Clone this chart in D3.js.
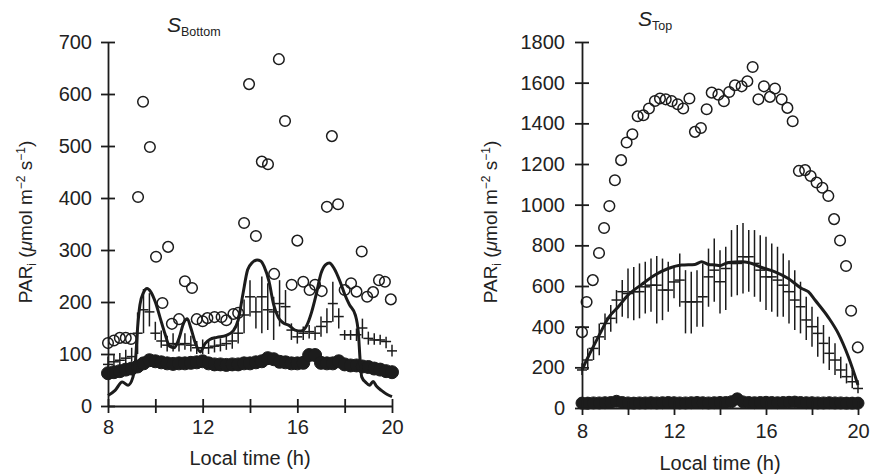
<!DOCTYPE html>
<html>
<head>
<meta charset="utf-8">
<script src="https://cdn.jsdelivr.net/npm/d3@7"></script>
<style>
  body { margin: 0; background: #fff; }
  svg { display: block; font-family: "Liberation Sans", Arial, Helvetica, sans-serif; }
</style>
</head>
<body>
<svg id="chart" width="873" height="475"></svg>
<script>
// sampling times (h) shared by the "+" error-bar series and the filled-circle series
const hours = [8, 8.25, 8.5, 8.75, 9, 9.25, 9.5, 9.75, 10, 10.25, 10.5, 10.75, 11, 11.25, 11.5, 11.75,
  12, 12.25, 12.5, 12.75, 13, 13.25, 13.5, 13.75, 14, 14.25, 14.5, 14.75, 15, 15.25, 15.5, 15.75,
  16, 16.25, 16.5, 16.75, 17, 17.25, 17.5, 17.75, 18, 18.25, 18.5, 18.75, 19, 19.25, 19.5, 19.75, 20];

// ---- S_Bottom ----
const bottomOpen = [[8.0,121],[8.25,126],[8.5,131],[8.75,131],[8.97,129],[9.27,402],[9.48,585],[9.77,498],
  [10.03,287],[10.3,198],[10.54,306],[10.7,158],[11.0,167],[11.25,240],[11.55,227],[11.75,167],[12.0,163],
  [12.2,169],[12.5,171],[12.8,171],[13.0,165],[13.3,177],[13.5,179],[13.75,352],[13.96,619],[14.25,327],
  [14.5,470],[14.76,465],[15.02,254],[15.22,667],[15.48,548],[15.76,233],[16.0,318],[16.25,239],[16.52,223],
  [16.75,233],[17.03,221],[17.25,383],[17.46,519],[17.72,388],[18.0,223],[18.27,236],[18.5,220],[18.72,297],
  [18.95,210],[19.2,219],[19.45,242],[19.7,239],[19.95,205]];

const bottomLine = [[8.0,20],[8.3,30],[8.6,46],[8.85,40],[9.05,55],[9.15,80],[9.25,150],[9.35,195],[9.5,218],
  [9.65,226],[9.8,220],[10.0,200],[10.2,170],[10.4,140],[10.6,115],[10.8,112],[11.0,130],[11.2,160],[11.35,168],
  [11.5,150],[11.7,120],[11.9,104],[12.1,120],[12.3,128],[12.6,132],[13.0,136],[13.3,145],[13.5,165],[13.7,215],
  [13.9,262],[14.1,276],[14.3,281],[14.45,279],[14.6,268],[14.8,240],[15.0,195],[15.2,170],[15.4,160],[15.65,155],
  [15.9,146],[16.15,144],[16.4,155],[16.6,180],[16.8,215],[17.0,255],[17.2,272],[17.35,275],[17.55,265],[17.8,240],
  [18.0,215],[18.2,195],[18.45,175],[18.58,140],[18.65,90],[18.72,56],[18.9,45],[19.05,40],[19.2,47],[19.35,38],
  [19.55,30],[19.8,22],[20.0,18]];

const bottomCrossMid = [80,85,88,92,95,140,185,181,140,125,117,120,118,120,117,112,112,112,115,117,120,125,140,175,
  210,181,210,185,181,197,191,146,133,140,143,140,153,162,197,172,137,137,137,150,130,127,127,124,106];
const bottomCrossLow = [70,75,78,82,85,100,140,153,127,112,105,105,105,108,105,100,100,100,103,105,108,110,120,140,
  172,149,140,146,127,153,159,127,120,127,130,127,133,140,162,149,127,127,125,130,118,118,118,111,95];
const bottomCrossHigh = [95,100,102,108,112,180,225,217,162,145,135,140,135,140,135,125,128,125,128,130,135,140,160,205,
  242,210,249,236,210,242,223,159,146,153,156,153,172,188,239,188,146,146,149,168,143,140,137,133,118];

const bottomFilled = [63,65,67,70,72,76,82,88,86,84,82,81,82,82,83,84,86,82,80,80,79,80,80,82,82,84,86,92,90,85,84,82,
  82,83,98,98,83,82,82,86,80,78,78,76,75,72,70,67,65];

// ---- S_Top ----
const topOpen = [[8.0,373],[8.2,521],[8.47,629],[8.74,762],[8.96,885],[9.19,993],[9.43,1120],[9.7,1219],[9.94,1306],
  [10.19,1346],[10.42,1435],[10.67,1440],[10.91,1473],[11.17,1510],[11.39,1522],[11.64,1518],[11.9,1509],[12.16,1494],
  [12.4,1473],[12.67,1522],[12.91,1358],[13.17,1377],[13.42,1469],[13.64,1551],[13.93,1541],[14.17,1509],[14.4,1554],
  [14.65,1587],[14.94,1582],[15.19,1607],[15.42,1677],[15.67,1518],[15.91,1582],[16.17,1530],[16.39,1571],[16.68,1518],
  [16.93,1476],[17.16,1410],[17.43,1166],[17.7,1170],[17.94,1141],[18.2,1109],[18.45,1083],[18.71,1043],[18.96,929],
  [19.22,824],[19.48,698],[19.7,478],[19.99,298]];

const topLine = [[8.0,187],[8.27,252],[8.57,319],[8.86,383],[9.14,442],[9.58,498],[10.0,555],[10.6,608],[11.17,654],
  [11.75,686],[12.33,703],[12.91,706],[13.2,719],[13.5,706],[13.78,703],[14.0,700],[14.36,716],[14.94,719],[15.23,716],
  [15.81,691],[16.39,670],[16.97,637],[17.55,588],[17.84,572],[18.13,531],[18.71,446],[19.14,367],[19.58,252],[20.0,113]];

const topCrossMid = [187,236,293,350,416,441,531,572,563,572,572,596,604,604,580,580,620,629,522,522,522,547,645,678,
  621,686,711,711,744,744,711,678,645,645,629,604,572,531,498,433,400,367,318,269,236,187,154,129,96];
const topCrossLow = [162,187,236,260,334,375,416,449,441,432,441,465,473,416,432,473,540,498,367,367,400,400,498,522,
  465,482,547,555,563,572,547,522,482,473,449,449,416,383,367,334,301,252,219,187,162,146,121,97,72];
const topCrossHigh = [220,293,350,416,465,506,580,629,686,694,711,719,735,747,735,719,700,760,678,670,678,711,784,834,
  776,793,875,900,910,875,875,850,842,809,793,760,727,678,621,547,498,449,408,350,318,252,219,187,137];

const topFilled = [24,24,25,25,26,27,33,27,25,24,25,25,26,25,26,27,26,25,25,26,27,26,25,26,27,27,31,45,30,27,26,27,
  28,27,26,27,28,29,27,26,26,25,25,26,25,25,24,24,24];

// ---- axes ----
const xTicks = [8, 10, 12, 14, 16, 18, 20];
const xTickLabels = [8, 12, 16, 20];
const bottomYTicks = [0, 100, 200, 300, 400, 500, 600, 700];
const topYTicks = [0, 200, 400, 600, 800, 1000, 1200, 1400, 1600, 1800];

const ink = "#1c1c1c";
const svg = d3.select("#chart");
svg.append("rect").attr("width", 873).attr("height", 475).attr("fill", "#fff");

function drawPanel(p) {
  const g = svg.append("g");
  const x = d3.scaleLinear().domain([8, 20]).range([p.left, p.right]);
  const y = d3.scaleLinear().domain([0, p.yMax]).range([p.bottom, p.top]);

  // "+" markers with vertical error bars
  const bars = g.append("g").attr("stroke", ink).attr("stroke-width", 1.5);
  hours.forEach((t, i) => {
    bars.append("line")
      .attr("x1", x(t)).attr("x2", x(t))
      .attr("y1", y(p.crossLow[i])).attr("y2", y(p.crossHigh[i]));
    bars.append("line")
      .attr("x1", x(t) - 5).attr("x2", x(t) + 5)
      .attr("y1", y(p.crossMid[i])).attr("y2", y(p.crossMid[i]));
  });

  // filled circles (dense band)
  g.append("g").selectAll("circle")
    .data(d3.zip(hours, p.filled))
    .join("circle")
    .attr("cx", d => x(d[0]))
    .attr("cy", d => y(d[1]))
    .attr("r", p.dotR)
    .attr("fill", ink)
    .attr("stroke", ink)
    .attr("stroke-width", 1);

  // thick solid line
  g.append("path")
    .datum(p.line)
    .attr("d", d3.line().x(d => x(d[0])).y(d => y(d[1])).curve(d3.curveMonotoneX))
    .attr("fill", "none")
    .attr("stroke", ink)
    .attr("stroke-width", 3)
    .attr("stroke-linejoin", "round");

  // open circles
  g.append("g").selectAll("circle")
    .data(p.open)
    .join("circle")
    .attr("cx", d => x(d[0]))
    .attr("cy", d => y(d[1]))
    .attr("r", 5.3)
    .attr("fill", "none")
    .attr("stroke", ink)
    .attr("stroke-width", 1.5);

  // x axis
  const gx = g.append("g")
    .attr("transform", "translate(0," + p.bottom + ")")
    .call(d3.axisBottom(x).tickValues(xTicks)
      .tickFormat(d => xTickLabels.includes(d) ? d : "")
      .tickSize(7).tickSizeOuter(0).tickPadding(p.xPad));
  gx.selectAll(".tick line").attr("y1", -7).attr("y2", 7);

  // y axis
  const gy = g.append("g")
    .attr("transform", "translate(" + p.left + ",0)")
    .call(d3.axisLeft(y).tickValues(p.yTicks).tickFormat(d3.format("d"))
      .tickSize(7).tickSizeOuter(0).tickPadding(p.yPad));
  gy.selectAll(".tick line").attr("x1", -7).attr("x2", 7);

  [gx, gy].forEach(a => {
    a.attr("font-family", null).attr("font-size", null);
    a.select(".domain").attr("stroke", ink).attr("stroke-width", 1.8);
    a.selectAll(".tick line").attr("stroke", ink).attr("stroke-width", 1.8);
    a.selectAll(".tick text").attr("fill", "#222").style("font-size", "20px");
  });

  // x title
  g.append("text")
    .attr("x", (p.left + p.right) / 2)
    .attr("y", p.xTitleY)
    .attr("text-anchor", "middle")
    .attr("fill", "#222")
    .style("font-size", "20px")
    .text("Local time (h)");

  // y title
  const yt = g.append("text")
    .attr("transform", "translate(" + p.yTitleX + ",222) rotate(-90)")
    .attr("text-anchor", "middle")
    .attr("fill", "#222")
    .style("font-size", "19px");
  yt.append("tspan").text("PAR");
  yt.append("tspan").attr("dy", 4).style("font-size", "12px").text("i");
  yt.append("tspan").attr("dy", -4).text(" (");
  yt.append("tspan").style("font-style", "italic").text("\u03bc");
  yt.append("tspan").text("mol m");
  yt.append("tspan").attr("dy", -7).style("font-size", "12px").text("\u22122");
  yt.append("tspan").attr("dy", 7).text(" s");
  yt.append("tspan").attr("dy", -7).style("font-size", "12px").text("\u22121");
  yt.append("tspan").attr("dy", 7).text(")");

  // panel title
  const tt = g.append("text")
    .attr("x", p.titleX)
    .attr("y", p.titleY)
    .attr("fill", "#222");
  tt.append("tspan").style("font-style", "italic").style("font-size", "21px").text("S");
  tt.append("tspan").attr("dy", 4).style("font-size", "12.5px").text(p.title);
}

drawPanel({
  title: "Bottom", left: 108, right: 392, top: 42, bottom: 406, yMax: 700,
  yTicks: bottomYTicks, xPad: 7, yPad: 9, xTitleY: 465, yTitleX: 32,
  titleX: 167, titleY: 32, dotR: 6.5,
  open: bottomOpen, line: bottomLine, filled: bottomFilled,
  crossMid: bottomCrossMid, crossLow: bottomCrossLow, crossHigh: bottomCrossHigh
});

drawPanel({
  title: "Top", left: 582, right: 858, top: 42, bottom: 408, yMax: 1800,
  yTicks: topYTicks, xPad: 9, yPad: 10, xTitleY: 470, yTitleX: 497,
  titleX: 638, titleY: 26, dotR: 6,
  open: topOpen, line: topLine, filled: topFilled,
  crossMid: topCrossMid, crossLow: topCrossLow, crossHigh: topCrossHigh
});
</script>
</body>
</html>
